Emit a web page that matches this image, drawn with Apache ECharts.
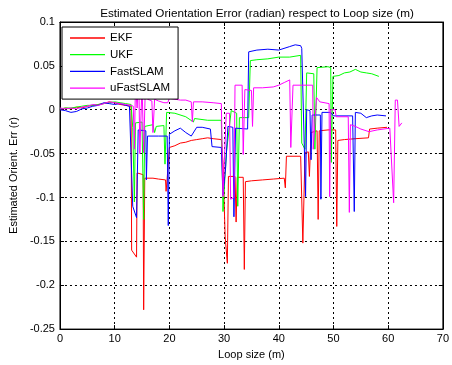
<!DOCTYPE html>
<html>
<head>
<meta charset="utf-8">
<script src="https://cdn.jsdelivr.net/npm/echarts@6/dist/echarts.min.js"></script>
<style>
  html, body { margin: 0; padding: 0; background: #fff; }
  #main { width: 452px; height: 365px; }
</style>
</head>
<body>
<div id="main"></div>
<script>
// series names and values, [loop size (m), error (rad)]
const seriesNames = ["EKF", "UKF", "FastSLAM", "uFastSLAM"];
const seriesColors = ["#ff0000", "#00ff00", "#0000ff", "#ff00ff"];

const ekf = [
  [0,0],[1,0.002],[2,0.001],[3,0.003],[4,0.002],[5,0.004],[6,0.005],[7,0.006],[8,0.007],[9,0.009],[10,0.008],[11,0.006],[12,0.005],[13,0.004],
  [13.1,-0.16],[14,-0.168],[14.1,-0.072],[15.2,-0.074],[15.3,-0.228],[15.5,-0.078],[17,-0.078],[18,-0.079],[19.3,-0.08],[19.4,-0.093],[19.6,-0.078],
  [20,-0.043],[21,-0.041],[22,-0.038],[23,-0.037],[24,-0.035],[25,-0.034],[26,-0.033],[27,-0.032],[28,-0.033],[29.5,-0.034],
  [29.8,-0.06],[30.2,-0.145],[30.6,-0.175],[30.8,-0.076],[32,-0.076],[32.2,-0.128],[32.4,-0.077],[33.5,-0.077],[33.7,-0.182],[33.9,-0.082],
  [35,-0.081],[37,-0.08],[39,-0.079],[41,-0.078],[41.2,-0.089],[41.4,-0.053],[44,-0.053],[44.4,-0.152],[44.8,-0.049],[45.4,-0.048],[45.6,-0.076],
  [45.9,-0.026],[47,-0.024],[47.2,-0.125],[47.4,-0.024],[49,-0.023],[50.4,-0.023],[50.6,-0.133],[50.8,-0.035],[52,-0.034],[54,-0.033],
  [56.4,-0.032],[56.6,-0.022],[58,-0.021],[59.8,-0.02]
];
const ukf = [
  [0,0.001],[1,0.002],[2,0.002],[3,0.003],[4,0.004],[5,0.005],[6,0.005],[7,0.006],[8,0.007],[9,0.008],[10,0.009],[11,0.008],[12,0.007],[13,0.006],
  [13.3,-0.02],[13.6,-0.105],[13.8,-0.015],[15,-0.014],[15.3,-0.125],[15.5,-0.019],[17,-0.017],[17.3,-0.026],[17.6,-0.019],[19,-0.018],[19.2,-0.062],
  [19.5,-0.003],[21,-0.004],[23,-0.008],[24.4,-0.014],[24.6,-0.01],[27,-0.012],[29.5,-0.012],[29.8,-0.116],[30.4,-0.05],[31.3,-0.001],[32.3,-0.004],
  [32.5,-0.11],[32.8,-0.009],[34.5,-0.009],[34.8,0.056],[36,0.057],[38,0.058],[40,0.06],[42,0.06],[44,0.062],[44.2,-0.038],[44.8,-0.045],
  [45.1,0.042],[46.4,0.041],[46.6,-0.045],[47,0.048],[49,0.049],[49.5,0.048],[49.6,-0.06],[49.9,0.038],[51,0.039],[52,0.042],[53,0.043],
  [54,0.046],[55,0.043],[56,0.042],[57,0.041],[58.3,0.038]
];
const fastSlam = [
  [0,0],[1,-0.001],[2,-0.003],[3,-0.002],[4,0.001],[5,0.002],[6,0.004],[7,0.005],[8,0.008],[9,0.007],[10,0.006],[11,0.007],[12,0.005],[12.7,0.004],
  [13.3,-0.11],[14,-0.123],[14.3,-0.023],[15.7,-0.024],[15.8,-0.08],[16,-0.03],[18,-0.03],[19.6,-0.03],[19.8,-0.132],[20,-0.028],[21,-0.024],
  [22,-0.021],[23,-0.026],[24,-0.03],[25,-0.02],[26,-0.02],[27.5,-0.022],[27.8,-0.042],[29.5,-0.043],[29.8,-0.097],[30.3,-0.065],[30.7,-0.019],
  [31.6,-0.02],[31.8,-0.122],[32.1,-0.021],[34.3,-0.022],[34.5,0.066],[36,0.068],[38,0.069],[40,0.068],[42,0.072],[43,0.074],[44,0.073],
  [44.2,0.07],[44.9,-0.099],[45.1,0],[45.7,-0.001],[45.9,-0.057],[46.1,-0.006],[47.6,-0.006],[47.7,-0.102],[47.9,-0.003],[49.5,-0.003],
  [50,-0.007],[53.5,-0.007],[53.8,-0.116],[54,-0.003],[55,-0.004],[56,-0.009],[57,-0.007],[58,-0.006],[59.6,-0.007]
];
const uFastSlam = [
  [0,0.002],[1,0.001],[2,0.002],[3,0.001],[4,0.003],[5,0.004],[6,0.006],[7,0.005],[8,0.007],[9,0.009],[10,0.008],[11,0.007],[12,0.006],[13,0.005],
  [13.4,0.004],[13.6,-0.045],[13.8,0.03],[14.1,0.002],[14.4,0.04],[14.6,-0.05],[15,0.03],[15.3,-0.049],[15.6,0.025],[16,0.012],[16.8,0.01],
  [17,-0.026],[17.3,0.012],[18,0.01],[19,0.008],[19.7,0.008],[20,0.013],[21,0.012],[22,0.011],[23,0.011],[24,0.009],[24.2,-0.014],[24.4,0.009],
  [26,0.009],[28,0.008],[29.5,0.007],[29.8,-0.099],[30.4,-0.004],[31,-0.004],[31.2,-0.102],[31.8,-0.1],[32,0.028],[33.3,0.028],[33.5,-0.051],
  [33.8,0.023],[35,0.022],[35.2,-0.019],[35.4,0.025],[37,0.025],[39,0.026],[40,0.028],[41,0.031],[42,0.034],[42.2,-0.043],[42.6,0.028],
  [44,0.028],[46.2,0.028],[46.3,-0.045],[46.9,0.014],[47.5,0.009],[49.2,0.007],[49.3,-0.099],[49.5,0],[50.3,0],[50.5,-0.008],[52.7,-0.008],
  [52.9,-0.117],[53.1,-0.017],[54,-0.019],[55,-0.022],[56.5,-0.025],[58,-0.023],[60.3,-0.021],[61,-0.106],[61.3,0.011],[61.7,0.011],
  [62,-0.019],[62.5,-0.015]
];
const allData = [ekf, ukf, fastSlam, uFastSlam];

const FONT = "Liberation Sans, Arial, sans-serif";

var chartDom = document.getElementById("main");
var myChart = echarts.init(chartDom);

const tickStyle = { inside: true, length: 4, lineStyle: { color: "#000" } };
const gridLine = { show: true, lineStyle: { color: "#000", type: [2, 3], width: 1 } };

let option = {
  animation: false,
  backgroundColor: "#fff",
  title: {
    text: "Estimated Orientation Error (radian) respect to Loop size (m)",
    left: 252,
    textAlign: "center",
    top: 3,
    textStyle: { fontFamily: FONT, fontSize: 11.7, fontWeight: "normal", color: "#000" }
  },
  grid: { left: 57, right: 5, top: 22, bottom: 34, show: true, borderColor: "#000", borderWidth: 1 },
  legend: {
    // plain line keys like the reference, no markers
    data: seriesNames.map(n => ({ name: n, icon: "rect" })),
    orient: "vertical",
    left: 62,
    top: 27,
    padding: [5, 8, 5, 8],
    itemGap: 4.7,
    itemWidth: 35,
    itemHeight: 1.3,
    backgroundColor: "#fff",
    borderColor: "#000",
    borderWidth: 1,
    textStyle: { fontFamily: FONT, fontSize: 11.5, color: "#000", lineHeight: 12 }
  },
  xAxis: [
    {
      type: "value",
      min: 0, max: 70, interval: 10,
      name: "Loop size (m)",
      nameLocation: "middle",
      nameGap: 19,
      nameTextStyle: { fontFamily: FONT, fontSize: 11, color: "#000" },
      axisLine: { onZero: false, lineStyle: { color: "#000" } },
      axisTick: tickStyle,
      axisLabel: { fontFamily: FONT, fontSize: 11, color: "#000", margin: 4 },
      splitLine: gridLine
    },
    {
      type: "value", position: "top",
      min: 0, max: 70, interval: 10,
      axisLine: { onZero: false, lineStyle: { color: "#000" } },
      axisTick: tickStyle,
      axisLabel: { show: false },
      splitLine: { show: false }
    }
  ],
  yAxis: [
    {
      type: "value",
      min: -0.25, max: 0.1, interval: 0.05,
      name: "Estimated Orient. Err (r)",
      nameLocation: "middle",
      nameGap: 40,
      nameTextStyle: { fontFamily: FONT, fontSize: 11, color: "#000" },
      axisLine: { show: true, onZero: false, lineStyle: { color: "#000" } },
      axisTick: { show: true, inside: true, length: 4, lineStyle: { color: "#000" } },
      axisLabel: {
        fontFamily: FONT, fontSize: 11, color: "#000", margin: 5,
        formatter: v => String(Math.round(v * 100) / 100)
      },
      splitLine: gridLine
    },
    {
      type: "value", position: "right",
      min: -0.25, max: 0.1, interval: 0.05,
      axisLine: { show: true, onZero: false, lineStyle: { color: "#000" } },
      axisTick: { show: true, inside: true, length: 4, lineStyle: { color: "#000" } },
      axisLabel: { show: false },
      splitLine: { show: false }
    }
  ],
  series: seriesNames.map((name, i) => ({
    name: name,
    type: "line",
    xAxisIndex: 0,
    yAxisIndex: 0,
    data: allData[i],
    symbol: "none",
    color: seriesColors[i],
    lineStyle: { width: 1, color: seriesColors[i] }
  }))
};

myChart.setOption(option);
</script>
</body>
</html>
